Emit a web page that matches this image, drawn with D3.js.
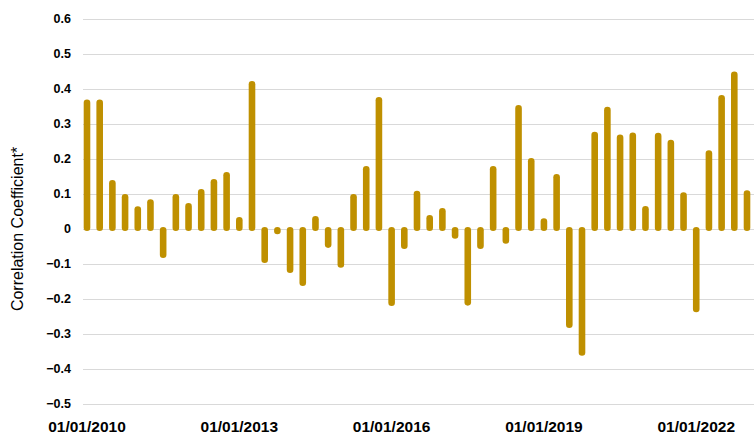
<!DOCTYPE html>
<html>
<head>
<meta charset="utf-8">
<script src="https://cdn.jsdelivr.net/npm/d3@7"></script>
<style>
  body { margin: 0; background: #fff; }
  svg { display: block; font-family: "Liberation Sans", Arial, sans-serif; }
</style>
</head>
<body>
<div id="chart"></div>
<script>
// quarterly correlation values, Q1 2010 .. Q1 2023
const quarters = d3.range(53).map(i => new Date(2010, i * 3, 1));
const values = [
  0.37, 0.37, 0.14, 0.10, 0.065, 0.085, -0.083, 0.10, 0.074, 0.114, 0.143, 0.163,
  0.034, 0.423, -0.097, -0.015, -0.126, -0.163, 0.037, -0.054, -0.111, 0.10, 0.18, 0.377,
  -0.22, -0.057, 0.109, 0.04, 0.06, -0.028, -0.219, -0.057, 0.18, -0.042, 0.354, 0.203,
  0.031, 0.157, -0.283, -0.362, 0.278, 0.349, 0.27, 0.276, 0.066, 0.275, 0.255, 0.105,
  -0.238, 0.225, 0.383, 0.45, 0.111
];
const yTicks = [0.6, 0.5, 0.4, 0.3, 0.2, 0.1, 0, -0.1, -0.2, -0.3, -0.4, -0.5];
const labelEvery = 12;

const width = 754, height = 434;
const plot = { left: 83, right: 754, top: 19, bottom: 404 };

const svg = d3.select("#chart")
  .append("svg")
  .attr("width", width)
  .attr("height", height);

const x = d3.scaleBand()
  .domain(d3.range(values.length))
  .range([80.65, 753.35])
  .paddingInner(0.48)
  .paddingOuter(0.24);

const y = d3.scaleLinear()
  .domain([-0.5, 0.6])
  .range([plot.bottom, plot.top]);

// gridlines
svg.append("g")
  .selectAll("line")
  .data(yTicks)
  .join("line")
  .attr("x1", plot.left)
  .attr("x2", plot.right)
  .attr("y1", d => y(d) + 0.5)
  .attr("y2", d => y(d) + 0.5)
  .attr("stroke", "#d9d9d9")
  .attr("stroke-width", 1);

// y tick labels
svg.append("g")
  .selectAll("text")
  .data(yTicks)
  .join("text")
  .attr("x", 71)
  .attr("y", d => y(d))
  .attr("dy", "0.35em")
  .attr("text-anchor", "end")
  .style("font-size", "12.5px")
  .style("font-weight", "bold")
  .attr("fill", "#000")
  .text(d => d === 0 ? "0" : d3.format(".1f")(d));

// bars with rounded ends
const bw = x.bandwidth();
svg.append("g")
  .selectAll("rect")
  .data(values)
  .join("rect")
  .attr("x", (d, i) => x(i))
  .attr("width", bw)
  .attr("y", d => d >= 0 ? y(d) : y(0) - 2)
  .attr("height", d => Math.abs(y(d) - y(0)) + 2)
  .attr("rx", bw / 2)
  .attr("fill", "#bf9000");

// x labels
const fmt = d3.timeFormat("%d/%m/%Y");
svg.append("g")
  .selectAll("text")
  .data(quarters.filter((d, i) => i % labelEvery === 0))
  .join("text")
  .attr("x", (d, i) => x(i * labelEvery) + bw / 2)
  .attr("y", 432)
  .attr("text-anchor", "middle")
  .style("font-size", "15.5px")
  .style("font-weight", "bold")
  .attr("fill", "#000")
  .text(d => fmt(d));

// y axis title
svg.append("text")
  .attr("transform", `translate(23,229) rotate(-90)`)
  .attr("text-anchor", "middle")
  .style("font-size", "16px")
  .attr("fill", "#000")
  .text("Correlation Coefficient*");
</script>
</body>
</html>
